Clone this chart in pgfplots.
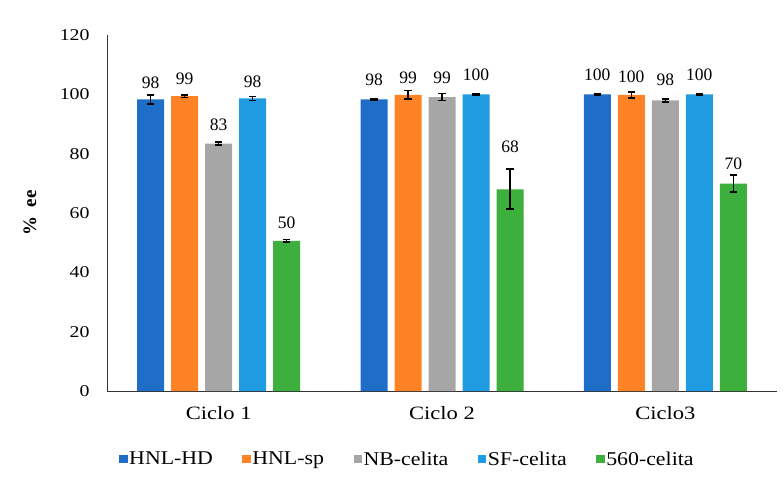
\documentclass[border=0pt]{standalone}
\usepackage{fontspec}
\setmainfont{Liberation Serif}
\newfontfamily\wideA{Liberation Serif}[FakeStretch=1.2]
\newfontfamily\wideB{Liberation Serif}[FakeStretch=1.12]
\usepackage{pgfplots}
\usepackage{pgfplotstable}
\pgfplotsset{compat=1.18}

\definecolor{cHD}{RGB}{30,110,200}
\definecolor{cSP}{RGB}{255,130,36}
\definecolor{cNB}{RGB}{166,166,166}
\definecolor{cSF}{RGB}{30,155,225}
\definecolor{cG}{RGB}{60,175,60}

% x, value, error, label position, label
\pgfplotstableread{
x y err ly lab
0 98.3 1.6 101.7 98
1 98.3 0.3 102.7 98
2 100 0.3 104.4 100
}\tHD
\pgfplotstableread{
x y err ly lab
0 99.4 0.5 103.1 99
1 99.8 1.5 103.5 99
2 99.8 1.0 103.8 100
}\tSP
\pgfplotstableread{
x y err ly lab
0 83.4 0.5 87.6 83
1 99.1 1.2 103.5 99
2 98.0 0.5 102.7 98
}\tNB
\pgfplotstableread{
x y err ly lab
0 98.6 0.7 102.3 98
1 100 0.2 104.4 100
2 100 0.2 104.4 100
}\tSF
\pgfplotstableread{
x y err ly lab
0 50.6 0.5 54.8 50
1 68.0 6.7 80.3 68
2 69.9 2.9 74.5 70
}\tG

\pgfplotsset{
  lbl/.style={draw=none, fill=none, forget plot, nodes near coords, point meta=explicit symbolic,
    every node near coord/.append style={font=\fontsize{17.5bp}{20bp}\selectfont, anchor=south, inner sep=0pt, black}},
  sq/.style={legend image code/.code={\fill[#1] (0bp,-4bp) rectangle (8.5bp,4.5bp);}},
}

\begin{document}
\begin{tikzpicture}
\begin{axis}[
  name=ax,
  scale only axis,
  width=670bp, height=356bp,
  ybar, bar width=27bp,
  xmin=-0.5, xmax=2.5,
  ymin=0, ymax=120,
  ytick={0,20,...,120},
  xtick={0,1,2},
  xticklabels={Ciclo 1, Ciclo 2, Ciclo3},
  axis x line*=bottom,
  axis y line*=left,
  axis line style={black!80, line width=0.9bp},
  major tick length=0pt,
  /pgf/number format/assume math mode=true,
  yticklabel style={font=\wideA\fontsize{16.5bp}{19bp}\selectfont, xshift=-14bp},
  xticklabel style={font=\wideA\fontsize{18.8bp}{22bp}\selectfont, yshift=-12bp},
  ylabel={\textbf{\%\ \ ee}},
  ylabel style={font=\fontsize{19bp}{22bp}\selectfont, at={(axis description cs:-0.115,0.5)}, anchor=center},
  legend columns=5,
  legend cell align=left,
  legend style={draw=none, fill=none, at={(axis description cs:0.448,-0.192)}, anchor=center,
    font=\rmfamily\wideB\fontsize{19.5bp}{23bp}\selectfont,
    /tikz/every even column/.append style={column sep=28bp},
    nodes={inner sep=1.5bp}},
  error bars/error bar style={black, line width=1.3bp},
  error bars/error mark options={rotate=90, black, line width=1.8bp, mark size=3.8bp},
]
\addplot[fill=cHD, draw=none, bar shift=-68bp, sq=cHD, error bars/.cd, y dir=both, y explicit] table[x=x, y=y, y error=err] {\tHD};
\addlegendentry{HNL-HD}
\addplot[fill=cSP, draw=none, bar shift=-34bp, sq=cSP, error bars/.cd, y dir=both, y explicit] table[x=x, y=y, y error=err] {\tSP};
\addlegendentry{HNL-sp}
\addplot[fill=cNB, draw=none, bar shift=0bp, sq=cNB, error bars/.cd, y dir=both, y explicit] table[x=x, y=y, y error=err] {\tNB};
\addlegendentry{NB-celita}
\addplot[fill=cSF, draw=none, bar shift=34bp, sq=cSF, error bars/.cd, y dir=both, y explicit] table[x=x, y=y, y error=err] {\tSF};
\addlegendentry{SF-celita}
\addplot[fill=cG, draw=none, bar shift=68bp, sq=cG, error bars/.cd, y dir=both, y explicit] table[x=x, y=y, y error=err] {\tG};
\addlegendentry{560-celita}

\addplot[lbl, bar shift=-68bp] table[x=x, y=ly, meta=lab] {\tHD};
\addplot[lbl, bar shift=-34bp] table[x=x, y=ly, meta=lab] {\tSP};
\addplot[lbl, bar shift=0bp] table[x=x, y=ly, meta=lab] {\tNB};
\addplot[lbl, bar shift=34bp] table[x=x, y=ly, meta=lab] {\tSF};
\addplot[lbl, bar shift=68bp] table[x=x, y=ly, meta=lab] {\tG};
\end{axis}
\path (ax.south west) ++(-107bp,-91bp) rectangle ([xshift=7bp,yshift=35bp]ax.north east);
\end{tikzpicture}
\end{document}
